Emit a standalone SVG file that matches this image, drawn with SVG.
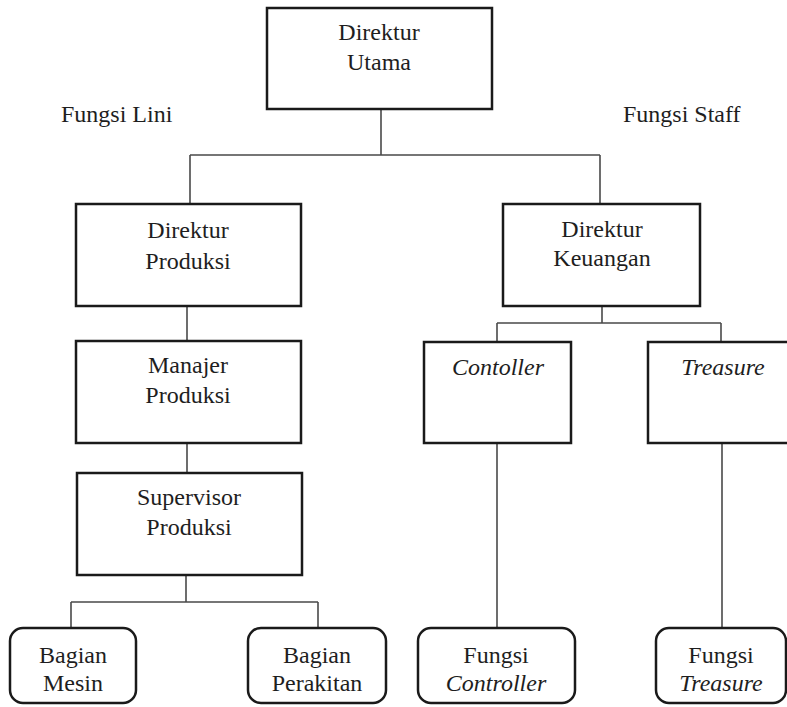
<svg xmlns="http://www.w3.org/2000/svg" width="787" height="707" viewBox="0 0 787 707">
  <style>
    .box { fill: #ffffff; stroke: #1a1a1a; stroke-width: 2.5; }
    .rbox { fill: #ffffff; stroke: #1a1a1a; stroke-width: 2.5; }
    .link { fill: none; stroke: #4a4a4a; stroke-width: 1.6; }
    text { font-family: "Liberation Serif", "Times New Roman", serif; font-size: 24px; fill: #1e1e1e; text-anchor: middle; }
    .it { font-style: italic; }
    .label { text-anchor: start; }
  </style>
  <rect width="787" height="707" fill="#ffffff"/>

  <!-- connectors -->
  <g id="connectors">
    <path class="link" d="M381 109 V155 M190 155 H600 M190 155 V204 M600 155 V204"/>
    <path class="link" d="M187 306 V341 M187 443 V473"/>
    <path class="link" d="M186 575 V602 M71 602 H318 M71 602 V628 M318 602 V628"/>
    <path class="link" d="M602 306 V323 M497 323 H721 M497 323 V342 M721 323 V342"/>
    <path class="link" d="M497 443 V628 M722 443 V628"/>
  </g>

  <!-- section labels -->
  <text class="label" x="61" y="122">Fungsi Lini</text>
  <text class="label" x="623" y="122">Fungsi Staff</text>

  <g id="direktur-utama">
    <rect class="box" x="267" y="8" width="225" height="101"/>
    <text x="379" y="40">Direktur</text>
    <text x="379" y="70">Utama</text>
  </g>

  <g id="direktur-produksi">
    <rect class="box" x="76" y="204" width="225" height="102"/>
    <text x="188" y="238">Direktur</text>
    <text x="188" y="269">Produksi</text>
  </g>

  <g id="manajer-produksi">
    <rect class="box" x="76" y="341" width="225" height="102"/>
    <text x="188" y="373">Manajer</text>
    <text x="188" y="403">Produksi</text>
  </g>

  <g id="supervisor-produksi">
    <rect class="box" x="77" y="473" width="225" height="102"/>
    <text x="189" y="505">Supervisor</text>
    <text x="189" y="535">Produksi</text>
  </g>

  <g id="direktur-keuangan">
    <rect class="box" x="503" y="204" width="197" height="102"/>
    <text x="602" y="237">Direktur</text>
    <text x="602" y="266">Keuangan</text>
  </g>

  <g id="controller">
    <rect class="box" x="424" y="342" width="147" height="101"/>
    <text class="it" x="498" y="375">Contoller</text>
  </g>

  <g id="treasure">
    <rect class="box" x="648" y="342" width="150" height="101"/>
    <text class="it" x="723" y="375">Treasure</text>
  </g>

  <g id="bagian-mesin">
    <rect class="rbox" x="10" y="628" width="126" height="75" rx="13"/>
    <text x="73" y="663">Bagian</text>
    <text x="73" y="691">Mesin</text>
  </g>

  <g id="bagian-perakitan">
    <rect class="rbox" x="248" y="628" width="138" height="75" rx="13"/>
    <text x="317" y="663">Bagian</text>
    <text x="317" y="691">Perakitan</text>
  </g>

  <g id="fungsi-controller">
    <rect class="rbox" x="418" y="628" width="157" height="75" rx="13"/>
    <text x="496" y="663">Fungsi</text>
    <text class="it" x="496" y="691">Controller</text>
  </g>

  <g id="fungsi-treasure">
    <rect class="rbox" x="656" y="628" width="130" height="75" rx="13"/>
    <text x="721" y="663">Fungsi</text>
    <text class="it" x="721" y="691">Treasure</text>
  </g>
</svg>
